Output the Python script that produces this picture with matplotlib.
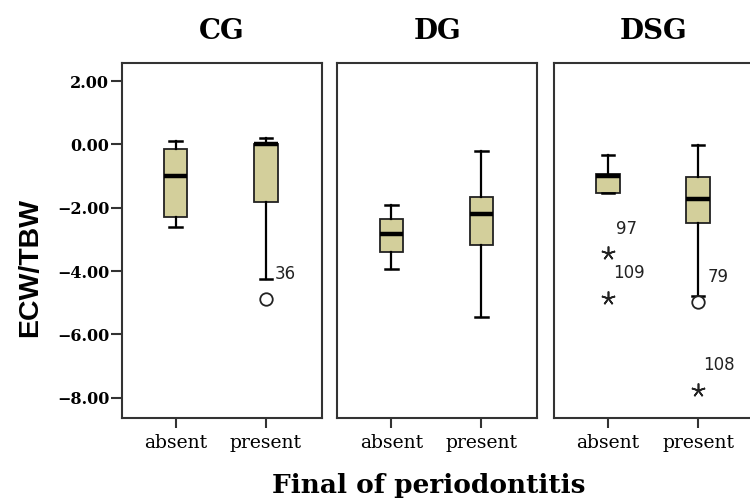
import matplotlib
matplotlib.use("Agg")
import matplotlib.pyplot as plt
import numpy as np

# ECW/TBW by group and final periodontitis status
groups = ["CG", "DG", "DSG"]
categories = ["absent", "present"]

# box stats per group: [absent, present]
q1 = [[-2.28, -1.81], [-3.39, -3.18], [-1.53, -2.49]]
median = [[-1.00, 0.00], [-2.83, -2.21], [-0.99, -1.73]]
q3 = [[-0.15, 0.02], [-2.37, -1.65], [-0.92, -1.02]]
whis_lo = [[-2.62, -4.24], [-3.93, -5.44], [-1.53, -4.78]]
whis_hi = [[0.11, 0.19], [-1.91, -0.20], [-0.32, -0.02]]

# outliers (circle) and extremes (star): (group, category, value, case id)
outliers = [(0, 1, -4.89, "36"), (2, 1, -4.97, "79")]
extremes = [(2, 0, -3.44, "97"), (2, 0, -4.86, "109"), (2, 1, -7.77, "108")]
# label positions in data units
label_pos = {"36": (1.10, -4.09), "79": (1.11, -4.18),
             "97": (0.085, -2.68), "109": (0.055, -4.05), "108": (1.05, -6.96)}

yticks = [2, 0, -2, -4, -6, -8]

box_color = "#d3cf9b"
serif = "DejaVu Serif"

fig = plt.figure(figsize=(7.5, 5.01), dpi=100)
lefts = [0.1623, 0.4497, 0.7387]

for g, name in enumerate(groups):
    ax = fig.add_axes([lefts[g], 0.165, 0.2667, 0.7086])
    stats = []
    for c in range(2):
        stats.append(dict(med=median[g][c], q1=q1[g][c], q3=q3[g][c],
                          whislo=whis_lo[g][c], whishi=whis_hi[g][c],
                          fliers=[]))
    ax.bxp(stats, positions=[0, 1], widths=0.26, capwidths=0.14,
           patch_artist=True, showfliers=False,
           boxprops=dict(facecolor=box_color, edgecolor="#222222", linewidth=1.3),
           medianprops=dict(color="black", linewidth=3.2),
           whiskerprops=dict(color="black", linewidth=1.6),
           capprops=dict(color="black", linewidth=1.8))

    for gg, c, v, lab in outliers:
        if gg == g:
            ax.plot(c, v, marker="o", markersize=9, markerfacecolor="white",
                    markeredgecolor="#222222", markeredgewidth=1.3, zorder=5)
            ax.text(*label_pos[lab], lab, fontsize=12, color="#222222",
                    ha="left", va="center")
    for gg, c, v, lab in extremes:
        if gg == g:
            ax.plot(c, v, marker=(5, 2, 0), markersize=10,
                    markeredgecolor="#222222", markeredgewidth=1.2, zorder=5)
            ax.text(*label_pos[lab], lab, fontsize=12, color="#222222",
                    ha="left", va="center")

    ax.set_xlim(-0.6, 1.62)
    ax.set_ylim(-8.65, 2.56)
    ax.set_xticks([0, 1])
    ax.set_xticklabels(categories, fontfamily=serif, fontsize=13.5)
    ax.tick_params(axis="x", length=7, width=1.5, pad=4, color="#333333")
    if g == 0:
        ax.set_yticks(yticks)
        ax.set_yticklabels([("%.2f" % t).replace("-", "\u2212") for t in yticks],
                           fontfamily=serif, fontweight="bold", fontsize=11.5)
        ax.tick_params(axis="y", length=8, width=1.5, pad=1, color="#333333")
    else:
        ax.set_yticks([])
    for sp in ax.spines.values():
        sp.set_color("#333333")
        sp.set_linewidth(1.5)
    fig.text(lefts[g] + 0.2667 / 2, 0.922, name, ha="center", va="baseline",
             fontfamily=serif, fontweight="bold", fontsize=20)

fig.text(0.04, 0.467, "ECW/TBW", rotation=90, ha="center", va="center",
         fontfamily="Liberation Sans", fontweight="bold", fontsize=20.5)
fig.text(0.572, 0.015, "Final of periodontitis", ha="center", va="baseline",
         fontfamily=serif, fontweight="bold", fontsize=19)

fig.savefig("out.png", dpi=100)
